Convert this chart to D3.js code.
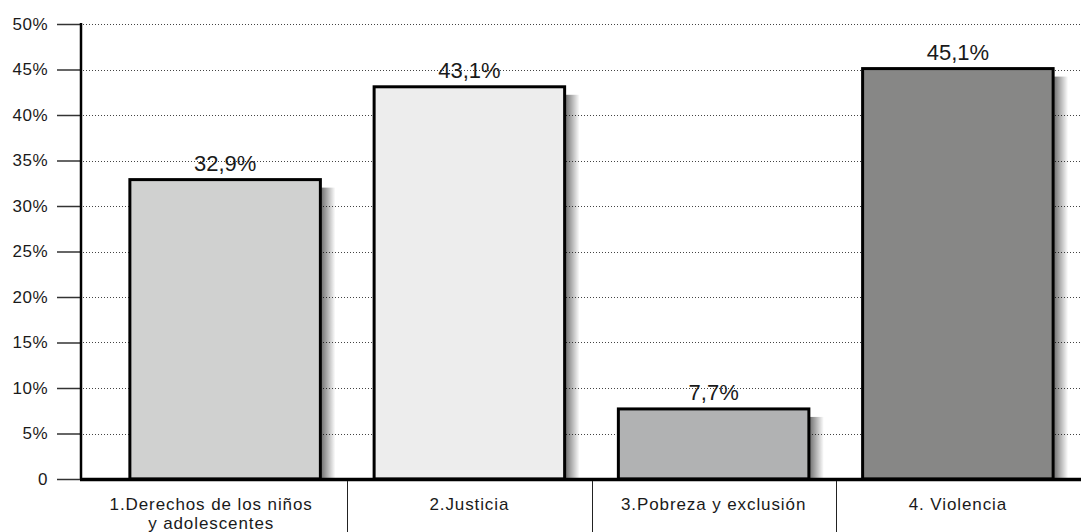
<!DOCTYPE html>
<meta charset="utf-8">
<style>
body { margin: 0; background: #fff; }
svg { display: block; }
.tick text, .cat { font-family: "Liberation Sans", Arial, sans-serif; fill: #1a1a1a; }
.val { font-family: "Liberation Sans", Arial, sans-serif; font-size: 22px; fill: #1a1a1a; }
.grid line { stroke: #444; stroke-width: 1; stroke-dasharray: 1,2; }
</style>
<body>
<script src="https://d3js.org/d3.v7.min.js"></script>
<script>

var categories = [["1.Derechos de los niños", "y adolescentes"], ["2.Justicia"], ["3.Pobreza y exclusión"], ["4. Violencia"]];
var values = [32.9, 43.1, 7.7, 45.1];
var valueLabels = ["32,9%", "43,1%", "7,7%", "45,1%"];
var barColors = ["#d0d1d0", "#ededed", "#b1b2b3", "#878786"];
var yTicks = [0, 5, 10, 15, 20, 25, 30, 35, 40, 45, 50];

var W = 1081, H = 532;
var axisX = 81, baseY = 479, topY = 24;

var svg = d3.select("body").append("svg")
    .attr("width", W)
    .attr("height", H);

var defs = svg.append("defs");
var grad = defs.append("linearGradient")
    .attr("id", "shadow")
    .attr("x1", "0").attr("x2", "1").attr("y1", "0").attr("y2", "0");
grad.append("stop").attr("offset", "0%").attr("stop-color", "#000").attr("stop-opacity", 0.55);
grad.append("stop").attr("offset", "100%").attr("stop-color", "#000").attr("stop-opacity", 0);

var x = d3.scaleBand()
    .domain(d3.range(categories.length))
    .range([103, 1080])
    .paddingInner(0.22)
    .paddingOuter(0.11);

var y = d3.scaleLinear()
    .domain([0, 50])
    .range([baseY, topY]);

// dotted gridlines
svg.append("g")
    .attr("class", "grid")
    .selectAll("line")
    .data(yTicks.filter(d => d > 0))
    .enter().append("line")
    .attr("x1", axisX + 2)
    .attr("x2", W)
    .attr("y1", d => Math.round(y(d)) + 0.5)
    .attr("y2", d => Math.round(y(d)) + 0.5);

// y axis
var yAxis = d3.axisLeft(y)
    .tickValues(yTicks)
    .tickSize(24)
    .tickPadding(9)
    .tickFormat(d => d === 0 ? "0" : d + "%");

var gy = svg.append("g")
    .attr("transform", "translate(" + axisX + ",0)")
    .call(yAxis);
gy.select(".domain").remove();
gy.selectAll(".tick line").attr("stroke", "#333").attr("stroke-width", 1.5);
gy.selectAll(".tick text")
    .style("font-size", "17px")
    .style("letter-spacing", "0.5px");
svg.append("line")
    .attr("x1", axisX).attr("x2", axisX)
    .attr("y1", y(50) - 1).attr("y2", baseY)
    .attr("stroke", "#000").attr("stroke-width", 2.5);

// shadows
svg.selectAll(".shadow")
    .data(values)
    .enter().append("rect")
    .attr("class", "shadow")
    .attr("x", (d, i) => x(i) + x.bandwidth() + 1)
    .attr("y", d => y(d) + 8)
    .attr("width", 14)
    .attr("height", d => baseY - y(d) - 8)
    .attr("fill", "url(#shadow)");

// bars
svg.selectAll(".bar")
    .data(values)
    .enter().append("rect")
    .attr("class", "bar")
    .attr("x", (d, i) => x(i))
    .attr("y", d => y(d))
    .attr("width", x.bandwidth())
    .attr("height", d => baseY - y(d))
    .attr("fill", (d, i) => barColors[i])
    .attr("stroke", "#000")
    .attr("stroke-width", 3);

// value labels
svg.selectAll(".val")
    .data(values)
    .enter().append("text")
    .attr("class", "val")
    .attr("x", (d, i) => x(i) + x.bandwidth() / 2)
    .attr("y", d => y(d) - 9)
    .attr("text-anchor", "middle")
    .text((d, i) => valueLabels[i]);

// baseline
svg.append("line")
    .attr("x1", axisX - 1).attr("x2", W)
    .attr("y1", baseY + 0.5).attr("y2", baseY + 0.5)
    .attr("stroke", "#000").attr("stroke-width", 3.5);

// category dividers
svg.selectAll(".div")
    .data(d3.range(1, categories.length))
    .enter().append("line")
    .attr("x1", i => Math.round(x(i) - x.step() * x.paddingInner() / 2) + 0.5)
    .attr("x2", i => Math.round(x(i) - x.step() * x.paddingInner() / 2) + 0.5)
    .attr("y1", baseY + 2)
    .attr("y2", H)
    .attr("stroke", "#222")
    .attr("stroke-width", 1);

// category labels
var cat = svg.selectAll(".cat")
    .data(categories)
    .enter().append("text")
    .attr("class", "cat")
    .attr("text-anchor", "middle")
    .style("font-size", "17px")
    .style("letter-spacing", "0.9px")
    .attr("transform", (d, i) => "translate(" + (x(i) + x.bandwidth() / 2 - (i === 0 ? 14 : 0)) + ",510)");
cat.selectAll("tspan")
    .data(d => d)
    .enter().append("tspan")
    .attr("x", 0)
    .attr("dy", (d, j) => j === 0 ? 0 : 19)
    .text(d => d);

</script>
</body>
